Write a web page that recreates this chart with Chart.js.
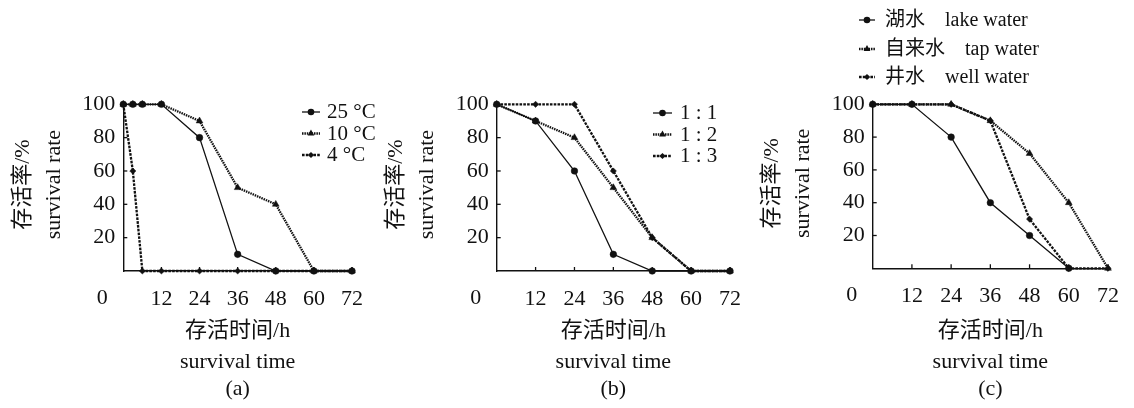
<!DOCTYPE html>
<html><head><meta charset="utf-8">
<script src="https://cdn.jsdelivr.net/npm/chart.js@4.4.0/dist/chart.umd.min.js"></script>
<style>
html,body{margin:0;padding:0;background:#fff;}
#wrap{position:relative;width:1134px;height:408px;overflow:hidden;background:#fff;}
canvas{position:absolute;top:0;}
</style></head><body>
<div id="wrap">
<canvas id="ca" width="378" height="408" style="left:0px"></canvas>
<canvas id="cb" width="378" height="408" style="left:378px"></canvas>
<canvas id="cc" width="378" height="408" style="left:756px"></canvas>
</div>
<script>
// ---- data ----
const hoursA = [0, 3, 6, 12, 24, 36, 48, 60, 72];
const a25 = [100, 100, 100, 100, 80, 10, 0, 0, 0];
const a10 = [100, 100, 100, 100, 90, 50, 40, 0, 0];
const a4  = [100, 60, 0, 0, 0, 0, 0, 0, 0];
const labelsA = ['25 °C', '10 °C', '4 °C'];

const hoursB = [0, 12, 24, 36, 48, 60, 72];
const b11 = [100, 90, 60, 10, 0, 0, 0];
const b12 = [100, 90, 80, 50, 20, 0, 0];
const b13 = [100, 100, 100, 60, 20, 0, 0];
const labelsB = ['1 : 1', '1 : 2', '1 : 3'];

const hoursC = [0, 12, 24, 36, 48, 60, 72];
const cLake = [100, 100, 80, 40, 20, 0, null];
const cTap  = [100, 100, 100, 90, 70, 40, 0];
const cWell = [100, 100, 100, 90, 30, 0, 0];
const labelsC = ['湖水\u3000lake water', '自来水\u3000tap water', '井水\u3000well water'];

const xTickValues = [0, 12, 24, 36, 48, 60, 72];
const yTickValues = [0, 20, 40, 60, 80, 100];
const yTitle = ['存活率/%', 'survival rate'];
const xTitle = ['存活时间/h', 'survival time'];
const captions = ['(a)', '(b)', '(c)'];

// ---- styles ----
const FAM = '"Liberation Serif", "Times New Roman", "Noto Sans CJK SC", serif';
const INK = '#111111';
const STY = {
  solid: {borderWidth: 1.3, borderDash: [], pointStyle: 'circle', pointRadius: 3.3},
  tri:   {borderWidth: 2.3, borderDash: [1.5, 0.9], pointStyle: 'triangle', pointRadius: 3.9},
  dia:   {borderWidth: 2.3, borderDash: [2.6, 1.2], pointStyle: 'rectRot', pointRadius: 3.1}
};

function ds(label, xs, ys, st) {
  const s = STY[st];
  return {
    label, data: xs.map((x, i) => ({x, y: ys[i]})),
    borderColor: INK, backgroundColor: INK, pointBackgroundColor: INK, pointBorderColor: INK,
    borderWidth: s.borderWidth, borderDash: s.borderDash, pointStyle: s.pointStyle,
    pointRadius: s.pointRadius, pointHoverRadius: s.pointRadius, pointBorderWidth: 0.5,
    tension: 0, clip: false, _st: st
  };
}

function drawMarker(ctx, st, x, y) {
  const s = STY[st];
  const r = s.pointRadius;
  ctx.save();
  ctx.fillStyle = INK;
  ctx.beginPath();
  if (st === 'solid') { ctx.arc(x, y, r, 0, Math.PI * 2); }
  else if (st === 'tri') {
    ctx.moveTo(x, y - r); ctx.lineTo(x + r * 0.866, y + r * 0.5); ctx.lineTo(x - r * 0.866, y + r * 0.5); ctx.closePath();
  } else {
    ctx.moveTo(x, y - r); ctx.lineTo(x + r, y); ctx.lineTo(x, y + r); ctx.lineTo(x - r, y); ctx.closePath();
  }
  ctx.fill();
  ctx.restore();
}

const decor = {
  id: 'decor',
  afterDraw(chart) {
    const o = chart.options.plugins.decor;
    const ctx = chart.ctx, ca = chart.chartArea;
    const xs = chart.scales.x, ys = chart.scales.y;
    ctx.save();
    // inward tick marks
    ctx.strokeStyle = INK; ctx.lineWidth = 1.3; ctx.setLineDash([]);
    yTickValues.forEach(v => { if (v === 0) return; const y = ys.getPixelForValue(v);
      ctx.beginPath(); ctx.moveTo(ca.left, y); ctx.lineTo(ca.left + 4, y); ctx.stroke(); });
    xTickValues.forEach(v => { if (v === 0) return; const x = xs.getPixelForValue(v);
      ctx.beginPath(); ctx.moveTo(x, ca.bottom); ctx.lineTo(x, ca.bottom - 4); ctx.stroke(); });
    ctx.fillStyle = INK;
    ctx.font = '22px ' + FAM;
    ctx.textBaseline = 'middle';
    ctx.textAlign = 'center';
    // shared origin label
    ctx.fillText('0', ca.left - 21, ca.bottom + 27);
    // y title
    const yc = (ca.top + ca.bottom) / 2 - 3;
    [[yTitle[0], -100], [yTitle[1], -69]].forEach(([t, dx]) => {
      ctx.save(); ctx.translate(ca.left + dx, yc); ctx.rotate(-Math.PI / 2);
      ctx.fillText(t, 0, 0); ctx.restore();
    });
    // x title and caption
    const xc = (ca.left + ca.right) / 2;
    ctx.fillText(xTitle[0], xc, 331);
    ctx.fillText(xTitle[1], xc, 362);
    ctx.fillText(o.caption, xc, 389);
    // legend
    const L = o.legend;
    ctx.textAlign = 'left';
    ctx.font = L.size + 'px ' + FAM;
    chart.data.datasets.forEach((d, i) => {
      const y = L.rows[i];
      const s = STY[d._st];
      ctx.save();
      ctx.strokeStyle = INK; ctx.lineWidth = s.borderWidth; ctx.setLineDash(s.borderDash);
      ctx.beginPath(); ctx.moveTo(L.x, y); ctx.lineTo(L.x + L.len, y); ctx.stroke();
      ctx.restore();
      drawMarker(ctx, d._st, L.x + L.len / 2, y);
      ctx.fillText(d.label, L.x + L.len + L.gap, y + 0.5);
    });
    ctx.restore();
  }
};

function makeChart(id, area, datasets, caption, legend) {
  const W = 378, H = 408, XH = 60;
  return new Chart(document.getElementById(id), {
    type: 'line',
    data: {datasets},
    options: {
      responsive: false, animation: false, devicePixelRatio: 1,
      layout: {autoPadding: false, padding: {left: 0, top: area.top, right: W - area.right, bottom: H - area.bottom - XH}},
      plugins: {legend: {display: false}, tooltip: {enabled: false}, decor: {caption, legend}},
      scales: {
        x: {
          type: 'linear', min: 0, max: 72,
          afterFit: s => { s.height = XH; },
          afterBuildTicks: s => { s.ticks = xTickValues.map(v => ({value: v})); },
          ticks: {padding: 15, color: INK, font: {family: FAM, size: 22},
            callback: v => (v === 0 ? '' : String(v)), maxRotation: 0, autoSkip: false},
          grid: {display: false, drawTicks: false},
          border: {display: true, color: INK, width: 1.4}
        },
        y: {
          type: 'linear', min: 0, max: 100,
          afterFit: s => { s.width = area.left; },
          afterBuildTicks: s => { s.ticks = yTickValues.map(v => ({value: v})); },
          ticks: {padding: 8, color: INK, font: {family: FAM, size: 22},
            callback: v => (v === 0 ? '' : String(v))},
          grid: {display: false, drawTicks: false},
          border: {display: true, color: INK, width: 1.4}
        }
      }
    },
    plugins: [decor]
  });
}

makeChart('ca', {left: 123.3, right: 373.3, top: 104.3, bottom: 271},
  [ds(labelsA[0], hoursA, a25, 'solid'), ds(labelsA[1], hoursA, a10, 'tri'), ds(labelsA[2], hoursA, a4, 'dia')],
  captions[0], {x: 302, len: 18, gap: 7, rows: [112, 133.5, 155], size: 21});

makeChart('cb', {left: 118.7, right: 369, top: 104.3, bottom: 271},
  [ds(labelsB[0], hoursB, b11, 'solid'), ds(labelsB[1], hoursB, b12, 'tri'), ds(labelsB[2], hoursB, b13, 'dia')],
  captions[1], {x: 275, len: 19, gap: 8, rows: [113, 134.5, 156], size: 21});

makeChart('cc', {left: 116.7, right: 362, top: 104.3, bottom: 268.3},
  [ds(labelsC[0], hoursC, cLake, 'solid'), ds(labelsC[1], hoursC, cTap, 'tri'), ds(labelsC[2], hoursC, cWell, 'dia')],
  captions[2], {x: 103, len: 16, gap: 10, rows: [20, 49, 77], size: 20});
</script>
</body></html>
